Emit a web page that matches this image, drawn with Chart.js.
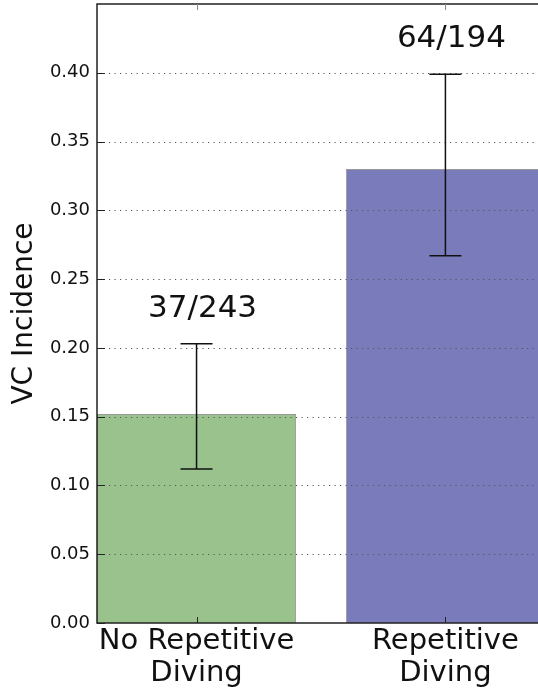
<!DOCTYPE html>
<html>
<head>
<meta charset="utf-8">
<script src="https://cdn.jsdelivr.net/npm/chart.js@4/dist/chart.umd.min.js"></script>
<style>
  html, body { margin: 0; padding: 0; background: #fff; }
  #wrap { width: 538px; height: 689px; }
</style>
</head>
<body>
<div id="wrap"><canvas id="chart" width="538" height="689"></canvas></div>
<script>
"use strict";

// ---------- Data ----------

const categories = [["No Repetitive", "Diving"], ["Repetitive", "Diving"]];
const incidence = [0.152, 0.330];
const errLow = [0.112, 0.267];
const errHigh = [0.203, 0.399];
const countLabels = ["37/243", "64/194"];
const yTicks = [0.00, 0.05, 0.10, 0.15, 0.20, 0.25, 0.30, 0.35, 0.40];
const yMax = 0.45;

const barColors = ["#99c28d", "#7a7bba"];
const FONT = "'DejaVu Sans', sans-serif";

// ---------- Plugins ----------

// dotted grid drawn over the bars (matplotlib classic look)
const gridOnTop = {
    id: "gridOnTop",
    afterDatasetsDraw(chart) {
        const { ctx, chartArea: a, scales: { y } } = chart;
        ctx.save();
        ctx.strokeStyle = "#555";
        ctx.lineWidth = 1;
        ctx.setLineDash([1.2, 4.3]);
        ctx.beginPath();
        for (const v of yTicks) {
            if (v === 0) continue;
            const py = Math.round(y.getPixelForValue(v)) + 0.5;
            ctx.moveTo(a.left + 1, py); ctx.lineTo(a.right, py);
        }
        ctx.stroke();
        ctx.restore();
    },
};

// error bars + n/N text above each bar
const errorBars = {
    id: "errorBars",
    afterDatasetsDraw(chart) {
        const { ctx, scales: { x, y } } = chart;
        ctx.save();
        ctx.strokeStyle = "#111";
        ctx.lineWidth = 1.5;
        incidence.forEach((_, i) => {
            const px = x.getPixelForValue(i);
            const lo = y.getPixelForValue(errLow[i]);
            const hi = y.getPixelForValue(errHigh[i]);
            ctx.beginPath();
            ctx.moveTo(px, lo); ctx.lineTo(px, hi);
            ctx.moveTo(px - 16, lo); ctx.lineTo(px + 16, lo);
            ctx.moveTo(px - 16, hi); ctx.lineTo(px + 16, hi);
            ctx.stroke();

            ctx.fillStyle = "#111";
            ctx.font = "31px " + FONT;
            ctx.textAlign = "center";
            ctx.textBaseline = "alphabetic";
            ctx.fillText(countLabels[i], px + 6, hi - 27);
        });
        ctx.restore();
    },
};

// matplotlib-style frame with inward ticks
const frame = {
    id: "frame",
    afterDraw(chart) {
        const { ctx, chartArea: a, scales: { x, y } } = chart;
        ctx.save();
        ctx.strokeStyle = "#222";
        ctx.lineWidth = 1.5;
        ctx.beginPath();
        ctx.moveTo(a.right + 2, a.top);
        ctx.lineTo(a.left, a.top);
        ctx.lineTo(a.left, a.bottom);
        ctx.lineTo(a.right + 2, a.bottom);
        ctx.stroke();

        ctx.lineWidth = 1;
        ctx.beginPath();
        for (const v of yTicks) {
            const py = Math.round(y.getPixelForValue(v)) + 0.5;
            ctx.moveTo(a.left, py); ctx.lineTo(a.left + 8, py);
        }
        categories.forEach((_, i) => {
            const px = Math.round(x.getPixelForValue(i)) + 0.5;
            ctx.moveTo(px, a.bottom); ctx.lineTo(px, a.bottom - 6);
        });
        ctx.stroke();

        ctx.strokeStyle = "#888";
        ctx.beginPath();
        categories.forEach((_, i) => {
            const px = Math.round(x.getPixelForValue(i)) + 0.5;
            ctx.moveTo(px, a.top); ctx.lineTo(px, a.top + 6);
        });
        ctx.stroke();
        ctx.restore();
    },
};

// ---------- Chart ----------

new Chart(document.getElementById("chart"), {
    type: "bar",
    data: {
        datasets: [{
            data: incidence.map((v, i) => ({ x: i, y: v })),
            backgroundColor: barColors,
            borderColor: "rgba(70,70,70,0.55)",
            borderWidth: 1,
            barPercentage: 0.8,
            categoryPercentage: 1.0,
        }],
    },
    options: {
        responsive: false,
        animation: false,
        devicePixelRatio: 1,
        layout: { padding: { top: 4, right: 0, left: 0, bottom: 0 } },
        plugins: { legend: { display: false }, tooltip: { enabled: false } },
        scales: {
            x: {
                type: "linear",
                min: -0.4,
                max: 1.372,
                offset: false,
                afterBuildTicks: (s) => { s.ticks = categories.map((_, i) => ({ value: i })); },
                afterFit: (s) => { s.height = 66; s.paddingLeft = 0; s.paddingRight = 0; },
                grid: { display: false, drawTicks: false, offset: false },
                border: { display: false },
                ticks: {
                    padding: 2,
                    color: "#111",
                    font: { family: FONT, size: 29, lineHeight: 1.12 },
                    maxRotation: 0,
                    autoSkip: false,
                    callback: (v, i) => categories[i],
                },
            },
            y: {
                min: 0,
                max: yMax,
                afterBuildTicks: (s) => { s.ticks = yTicks.map((v) => ({ value: v })); },
                afterFit: (s) => { s.width = 97; s.paddingTop = 0; s.paddingBottom = 0; },
                grid: { display: false, drawTicks: false },
                border: { display: false },
                ticks: {
                    padding: 7,
                    color: "#111",
                    font: { family: FONT, size: 18 },
                    callback: (v) => v.toFixed(2),
                },
                title: {
                    display: true,
                    text: "VC Incidence",
                    color: "#111",
                    font: { family: FONT, size: 28 },
                    padding: { top: 8, bottom: 0 },
                },
            },
        },
    },
    plugins: [gridOnTop, errorBars, frame],
});
</script>
</body>
</html>
